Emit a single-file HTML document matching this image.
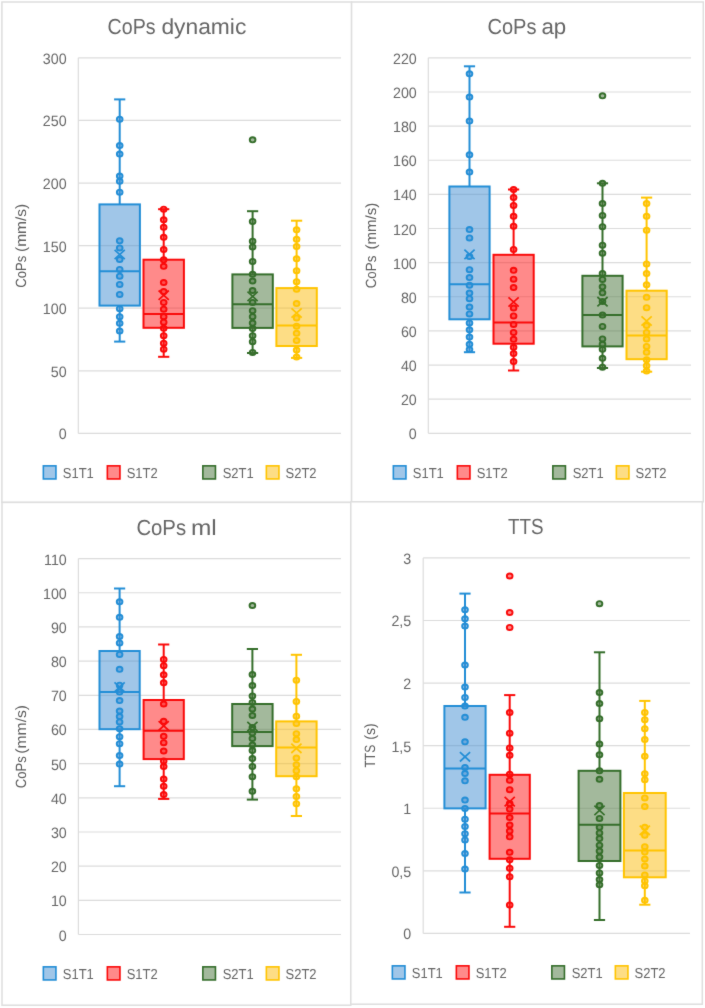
<!DOCTYPE html>
<html><head><meta charset="utf-8"><title>Box plots</title>
<style>
html,body{margin:0;padding:0;background:#fff;}
body{width:705px;height:1008px;overflow:hidden;}
svg{display:block;}
#w{width:705px;height:1008px;}
text{font-family:"Liberation Sans", sans-serif;text-rendering:geometricPrecision;}
</style></head><body>
<div id="w"><svg width="705" height="1008" viewBox="0 0 705 1008">
<defs><filter id="bl" x="0" y="0" width="1" height="1" color-interpolation-filters="sRGB"><feConvolveMatrix order="3" kernelMatrix="0.015 0.06 0.015 0.06 0.70 0.06 0.015 0.06 0.015" edgeMode="duplicate"/></filter></defs>
<g filter="url(#bl)">
<rect x="0" y="0" width="705" height="1008" fill="#fff"/>
<rect x="1.9" y="2" width="349.7" height="500.4" fill="#fff" stroke="#dedede" stroke-width="1.5"/>
<text x="107.6" y="34.3" font-size="21.9" textLength="47.9" lengthAdjust="spacingAndGlyphs" fill="#666666">CoPs</text>
<text x="161.4" y="34.3" font-size="21.9" textLength="84.9" lengthAdjust="spacingAndGlyphs" fill="#666666">dynamic</text>
<line x1="78.3" y1="433.4" x2="341" y2="433.4" stroke="#dcdcdc" stroke-width="1.2"/>
<text transform="translate(66.6,439.4) scale(0.95,1)" font-size="15" text-anchor="end" fill="#666666">0</text>
<line x1="78.3" y1="370.81" x2="341" y2="370.81" stroke="#dcdcdc" stroke-width="1.2"/>
<text transform="translate(66.6,376.81) scale(0.95,1)" font-size="15" text-anchor="end" fill="#666666">50</text>
<line x1="78.3" y1="308.22" x2="341" y2="308.22" stroke="#dcdcdc" stroke-width="1.2"/>
<text transform="translate(66.6,314.22) scale(0.95,1)" font-size="15" text-anchor="end" fill="#666666">100</text>
<line x1="78.3" y1="245.62" x2="341" y2="245.62" stroke="#dcdcdc" stroke-width="1.2"/>
<text transform="translate(66.6,251.62) scale(0.95,1)" font-size="15" text-anchor="end" fill="#666666">150</text>
<line x1="78.3" y1="183.03" x2="341" y2="183.03" stroke="#dcdcdc" stroke-width="1.2"/>
<text transform="translate(66.6,189.03) scale(0.95,1)" font-size="15" text-anchor="end" fill="#666666">200</text>
<line x1="78.3" y1="120.44" x2="341" y2="120.44" stroke="#dcdcdc" stroke-width="1.2"/>
<text transform="translate(66.6,126.44) scale(0.95,1)" font-size="15" text-anchor="end" fill="#666666">250</text>
<line x1="78.3" y1="57.85" x2="341" y2="57.85" stroke="#dcdcdc" stroke-width="1.2"/>
<text transform="translate(66.6,63.85) scale(0.95,1)" font-size="15" text-anchor="end" fill="#666666">300</text>
<line x1="78.3" y1="57.85" x2="78.3" y2="433.4" stroke="#dcdcdc" stroke-width="1.2"/>
<text transform="translate(25.8,287.7) rotate(-90)" x="0" y="0" font-size="14.8" textLength="32.1" lengthAdjust="spacingAndGlyphs" fill="#5e5e5e">CoPs</text>
<text transform="translate(25.8,252) rotate(-90)" x="0" y="0" font-size="14.8" textLength="48.2" lengthAdjust="spacingAndGlyphs" fill="#5e5e5e">(mm/s)</text>
<line x1="119.7" y1="99.4" x2="119.7" y2="204.4" stroke="#238ed6" stroke-width="2"/>
<line x1="119.7" y1="305.6" x2="119.7" y2="341.6" stroke="#238ed6" stroke-width="2"/>
<line x1="114.1" y1="99.4" x2="125.3" y2="99.4" stroke="#238ed6" stroke-width="2"/>
<line x1="114.1" y1="341.6" x2="125.3" y2="341.6" stroke="#238ed6" stroke-width="2"/>
<rect x="99.5" y="204.4" width="40.4" height="101.2" fill="rgba(65,141,209,0.5)" stroke="#238ed6" stroke-width="2"/>
<line x1="99.5" y1="271.2" x2="139.9" y2="271.2" stroke="#238ed6" stroke-width="2"/>
<ellipse cx="119.7" cy="119.2" rx="2.85" ry="2.55" fill="rgba(65,141,209,0.5)" stroke="#238ed6" stroke-width="1.9"/>
<ellipse cx="119.7" cy="145.6" rx="2.85" ry="2.55" fill="rgba(65,141,209,0.5)" stroke="#238ed6" stroke-width="1.9"/>
<ellipse cx="119.7" cy="154.1" rx="2.85" ry="2.55" fill="rgba(65,141,209,0.5)" stroke="#238ed6" stroke-width="1.9"/>
<ellipse cx="119.7" cy="176.1" rx="2.85" ry="2.55" fill="rgba(65,141,209,0.5)" stroke="#238ed6" stroke-width="1.9"/>
<ellipse cx="119.7" cy="181.3" rx="2.85" ry="2.55" fill="rgba(65,141,209,0.5)" stroke="#238ed6" stroke-width="1.9"/>
<ellipse cx="119.7" cy="192.2" rx="2.85" ry="2.55" fill="rgba(65,141,209,0.5)" stroke="#238ed6" stroke-width="1.9"/>
<ellipse cx="119.7" cy="240.8" rx="2.85" ry="2.55" fill="rgba(65,141,209,0.5)" stroke="#238ed6" stroke-width="1.9"/>
<ellipse cx="119.7" cy="247.9" rx="2.85" ry="2.55" fill="rgba(65,141,209,0.5)" stroke="#238ed6" stroke-width="1.9"/>
<ellipse cx="119.7" cy="259.5" rx="2.85" ry="2.55" fill="rgba(65,141,209,0.5)" stroke="#238ed6" stroke-width="1.9"/>
<ellipse cx="119.7" cy="269.4" rx="2.85" ry="2.55" fill="rgba(65,141,209,0.5)" stroke="#238ed6" stroke-width="1.9"/>
<ellipse cx="119.7" cy="276.2" rx="2.85" ry="2.55" fill="rgba(65,141,209,0.5)" stroke="#238ed6" stroke-width="1.9"/>
<ellipse cx="119.7" cy="284.4" rx="2.85" ry="2.55" fill="rgba(65,141,209,0.5)" stroke="#238ed6" stroke-width="1.9"/>
<ellipse cx="119.7" cy="294.4" rx="2.85" ry="2.55" fill="rgba(65,141,209,0.5)" stroke="#238ed6" stroke-width="1.9"/>
<ellipse cx="119.7" cy="308.7" rx="2.85" ry="2.55" fill="rgba(65,141,209,0.5)" stroke="#238ed6" stroke-width="1.9"/>
<ellipse cx="119.7" cy="316.7" rx="2.85" ry="2.55" fill="rgba(65,141,209,0.5)" stroke="#238ed6" stroke-width="1.9"/>
<ellipse cx="119.7" cy="323.3" rx="2.85" ry="2.55" fill="rgba(65,141,209,0.5)" stroke="#238ed6" stroke-width="1.9"/>
<ellipse cx="119.7" cy="331" rx="2.85" ry="2.55" fill="rgba(65,141,209,0.5)" stroke="#238ed6" stroke-width="1.9"/>
<path d="M114.6 249.8L124.8 259.2M124.8 249.8L114.6 259.2" stroke="#238ed6" stroke-width="1.7" fill="none"/>
<line x1="163.7" y1="209.2" x2="163.7" y2="259.7" stroke="#fa0a0a" stroke-width="2"/>
<line x1="163.7" y1="327.8" x2="163.7" y2="356.8" stroke="#fa0a0a" stroke-width="2"/>
<line x1="158.1" y1="209.2" x2="169.3" y2="209.2" stroke="#fa0a0a" stroke-width="2"/>
<line x1="158.1" y1="356.8" x2="169.3" y2="356.8" stroke="#fa0a0a" stroke-width="2"/>
<rect x="143.5" y="259.7" width="40.4" height="68.1" fill="rgba(255,21,21,0.5)" stroke="#fa0a0a" stroke-width="2"/>
<line x1="143.5" y1="314" x2="183.9" y2="314" stroke="#fa0a0a" stroke-width="2"/>
<ellipse cx="163.7" cy="209.2" rx="2.85" ry="2.55" fill="rgba(255,21,21,0.5)" stroke="#fa0a0a" stroke-width="1.9"/>
<ellipse cx="163.7" cy="219.8" rx="2.85" ry="2.55" fill="rgba(255,21,21,0.5)" stroke="#fa0a0a" stroke-width="1.9"/>
<ellipse cx="163.7" cy="227.3" rx="2.85" ry="2.55" fill="rgba(255,21,21,0.5)" stroke="#fa0a0a" stroke-width="1.9"/>
<ellipse cx="163.7" cy="237.3" rx="2.85" ry="2.55" fill="rgba(255,21,21,0.5)" stroke="#fa0a0a" stroke-width="1.9"/>
<ellipse cx="163.7" cy="249.5" rx="2.85" ry="2.55" fill="rgba(255,21,21,0.5)" stroke="#fa0a0a" stroke-width="1.9"/>
<ellipse cx="163.7" cy="259.8" rx="2.85" ry="2.55" fill="rgba(255,21,21,0.5)" stroke="#fa0a0a" stroke-width="1.9"/>
<ellipse cx="163.7" cy="266.3" rx="2.85" ry="2.55" fill="rgba(255,21,21,0.5)" stroke="#fa0a0a" stroke-width="1.9"/>
<ellipse cx="163.7" cy="282.5" rx="2.85" ry="2.55" fill="rgba(255,21,21,0.5)" stroke="#fa0a0a" stroke-width="1.9"/>
<ellipse cx="163.7" cy="291.6" rx="2.85" ry="2.55" fill="rgba(255,21,21,0.5)" stroke="#fa0a0a" stroke-width="1.9"/>
<ellipse cx="163.7" cy="302.4" rx="2.85" ry="2.55" fill="rgba(255,21,21,0.5)" stroke="#fa0a0a" stroke-width="1.9"/>
<ellipse cx="163.7" cy="309.2" rx="2.85" ry="2.55" fill="rgba(255,21,21,0.5)" stroke="#fa0a0a" stroke-width="1.9"/>
<ellipse cx="163.7" cy="316.7" rx="2.85" ry="2.55" fill="rgba(255,21,21,0.5)" stroke="#fa0a0a" stroke-width="1.9"/>
<ellipse cx="163.7" cy="322.2" rx="2.85" ry="2.55" fill="rgba(255,21,21,0.5)" stroke="#fa0a0a" stroke-width="1.9"/>
<ellipse cx="163.7" cy="328.3" rx="2.85" ry="2.55" fill="rgba(255,21,21,0.5)" stroke="#fa0a0a" stroke-width="1.9"/>
<ellipse cx="163.7" cy="335.7" rx="2.85" ry="2.55" fill="rgba(255,21,21,0.5)" stroke="#fa0a0a" stroke-width="1.9"/>
<ellipse cx="163.7" cy="343.2" rx="2.85" ry="2.55" fill="rgba(255,21,21,0.5)" stroke="#fa0a0a" stroke-width="1.9"/>
<ellipse cx="163.7" cy="349.2" rx="2.85" ry="2.55" fill="rgba(255,21,21,0.5)" stroke="#fa0a0a" stroke-width="1.9"/>
<path d="M158.6 290.5L168.8 299.9M168.8 290.5L158.6 299.9" stroke="#fa0a0a" stroke-width="1.7" fill="none"/>
<line x1="252.6" y1="211.2" x2="252.6" y2="274.4" stroke="#356e2b" stroke-width="2"/>
<line x1="252.6" y1="327.9" x2="252.6" y2="353" stroke="#356e2b" stroke-width="2"/>
<line x1="247" y1="211.2" x2="258.2" y2="211.2" stroke="#356e2b" stroke-width="2"/>
<line x1="247" y1="353" x2="258.2" y2="353" stroke="#356e2b" stroke-width="2"/>
<rect x="232.4" y="274.4" width="40.4" height="53.5" fill="rgba(71,115,57,0.5)" stroke="#356e2b" stroke-width="2"/>
<line x1="232.4" y1="304.3" x2="272.8" y2="304.3" stroke="#356e2b" stroke-width="2"/>
<ellipse cx="252.6" cy="221.4" rx="2.85" ry="2.55" fill="rgba(71,115,57,0.5)" stroke="#356e2b" stroke-width="1.9"/>
<ellipse cx="252.6" cy="241.2" rx="2.85" ry="2.55" fill="rgba(71,115,57,0.5)" stroke="#356e2b" stroke-width="1.9"/>
<ellipse cx="252.6" cy="246.9" rx="2.85" ry="2.55" fill="rgba(71,115,57,0.5)" stroke="#356e2b" stroke-width="1.9"/>
<ellipse cx="252.6" cy="261.4" rx="2.85" ry="2.55" fill="rgba(71,115,57,0.5)" stroke="#356e2b" stroke-width="1.9"/>
<ellipse cx="252.6" cy="274.3" rx="2.85" ry="2.55" fill="rgba(71,115,57,0.5)" stroke="#356e2b" stroke-width="1.9"/>
<ellipse cx="252.6" cy="281" rx="2.85" ry="2.55" fill="rgba(71,115,57,0.5)" stroke="#356e2b" stroke-width="1.9"/>
<ellipse cx="252.6" cy="290.5" rx="2.85" ry="2.55" fill="rgba(71,115,57,0.5)" stroke="#356e2b" stroke-width="1.9"/>
<ellipse cx="252.6" cy="302.4" rx="2.85" ry="2.55" fill="rgba(71,115,57,0.5)" stroke="#356e2b" stroke-width="1.9"/>
<ellipse cx="252.6" cy="310.7" rx="2.85" ry="2.55" fill="rgba(71,115,57,0.5)" stroke="#356e2b" stroke-width="1.9"/>
<ellipse cx="252.6" cy="316.7" rx="2.85" ry="2.55" fill="rgba(71,115,57,0.5)" stroke="#356e2b" stroke-width="1.9"/>
<ellipse cx="252.6" cy="323.1" rx="2.85" ry="2.55" fill="rgba(71,115,57,0.5)" stroke="#356e2b" stroke-width="1.9"/>
<ellipse cx="252.6" cy="328.6" rx="2.85" ry="2.55" fill="rgba(71,115,57,0.5)" stroke="#356e2b" stroke-width="1.9"/>
<ellipse cx="252.6" cy="335.7" rx="2.85" ry="2.55" fill="rgba(71,115,57,0.5)" stroke="#356e2b" stroke-width="1.9"/>
<ellipse cx="252.6" cy="341.7" rx="2.85" ry="2.55" fill="rgba(71,115,57,0.5)" stroke="#356e2b" stroke-width="1.9"/>
<ellipse cx="252.6" cy="352.4" rx="2.85" ry="2.55" fill="rgba(71,115,57,0.5)" stroke="#356e2b" stroke-width="1.9"/>
<ellipse cx="252.6" cy="139.8" rx="2.85" ry="2.55" fill="rgba(71,115,57,0.5)" stroke="#356e2b" stroke-width="1.9"/>
<path d="M247.5 291.7L257.7 301.1M257.7 291.7L247.5 301.1" stroke="#356e2b" stroke-width="1.7" fill="none"/>
<line x1="296.6" y1="220.7" x2="296.6" y2="288.1" stroke="#ffc400" stroke-width="2"/>
<line x1="296.6" y1="346" x2="296.6" y2="357.9" stroke="#ffc400" stroke-width="2"/>
<line x1="291" y1="220.7" x2="302.2" y2="220.7" stroke="#ffc400" stroke-width="2"/>
<line x1="291" y1="357.9" x2="302.2" y2="357.9" stroke="#ffc400" stroke-width="2"/>
<rect x="276.4" y="288.1" width="40.4" height="57.9" fill="rgba(251,187,11,0.5)" stroke="#ffc400" stroke-width="2"/>
<line x1="276.4" y1="325.5" x2="316.8" y2="325.5" stroke="#ffc400" stroke-width="2"/>
<ellipse cx="296.6" cy="229.8" rx="2.85" ry="2.55" fill="rgba(251,187,11,0.5)" stroke="#ffc400" stroke-width="1.9"/>
<ellipse cx="296.6" cy="239.3" rx="2.85" ry="2.55" fill="rgba(251,187,11,0.5)" stroke="#ffc400" stroke-width="1.9"/>
<ellipse cx="296.6" cy="246.4" rx="2.85" ry="2.55" fill="rgba(251,187,11,0.5)" stroke="#ffc400" stroke-width="1.9"/>
<ellipse cx="296.6" cy="258.8" rx="2.85" ry="2.55" fill="rgba(251,187,11,0.5)" stroke="#ffc400" stroke-width="1.9"/>
<ellipse cx="296.6" cy="270.7" rx="2.85" ry="2.55" fill="rgba(251,187,11,0.5)" stroke="#ffc400" stroke-width="1.9"/>
<ellipse cx="296.6" cy="281.7" rx="2.85" ry="2.55" fill="rgba(251,187,11,0.5)" stroke="#ffc400" stroke-width="1.9"/>
<ellipse cx="296.6" cy="289.3" rx="2.85" ry="2.55" fill="rgba(251,187,11,0.5)" stroke="#ffc400" stroke-width="1.9"/>
<ellipse cx="296.6" cy="303.6" rx="2.85" ry="2.55" fill="rgba(251,187,11,0.5)" stroke="#ffc400" stroke-width="1.9"/>
<ellipse cx="296.6" cy="317.9" rx="2.85" ry="2.55" fill="rgba(251,187,11,0.5)" stroke="#ffc400" stroke-width="1.9"/>
<ellipse cx="296.6" cy="326.2" rx="2.85" ry="2.55" fill="rgba(251,187,11,0.5)" stroke="#ffc400" stroke-width="1.9"/>
<ellipse cx="296.6" cy="333.3" rx="2.85" ry="2.55" fill="rgba(251,187,11,0.5)" stroke="#ffc400" stroke-width="1.9"/>
<ellipse cx="296.6" cy="340.5" rx="2.85" ry="2.55" fill="rgba(251,187,11,0.5)" stroke="#ffc400" stroke-width="1.9"/>
<ellipse cx="296.6" cy="350" rx="2.85" ry="2.55" fill="rgba(251,187,11,0.5)" stroke="#ffc400" stroke-width="1.9"/>
<ellipse cx="296.6" cy="357" rx="2.85" ry="2.55" fill="rgba(251,187,11,0.5)" stroke="#ffc400" stroke-width="1.9"/>
<path d="M291.5 308.3L301.7 317.7M301.7 308.3L291.5 317.7" stroke="#ffc400" stroke-width="1.7" fill="none"/>
<rect x="43.35" y="465.85" width="12.6" height="13.1" fill="rgba(65,141,209,0.5)" stroke="#238ed6" stroke-width="1.6"/>
<text x="62.8" y="478.3" font-size="14.5" textLength="31" lengthAdjust="spacingAndGlyphs" fill="#666666">S1T1</text>
<rect x="107.35" y="465.85" width="12.6" height="13.1" fill="rgba(255,21,21,0.5)" stroke="#fa0a0a" stroke-width="1.6"/>
<text x="126.7" y="478.3" font-size="14.5" textLength="31" lengthAdjust="spacingAndGlyphs" fill="#666666">S1T2</text>
<rect x="202.85" y="465.85" width="12.6" height="13.1" fill="rgba(71,115,57,0.5)" stroke="#356e2b" stroke-width="1.6"/>
<text x="222.7" y="478.3" font-size="14.5" textLength="31" lengthAdjust="spacingAndGlyphs" fill="#666666">S2T1</text>
<rect x="266.35" y="465.85" width="12.6" height="13.1" fill="rgba(251,187,11,0.5)" stroke="#ffc400" stroke-width="1.6"/>
<text x="285.6" y="478.3" font-size="14.5" textLength="31" lengthAdjust="spacingAndGlyphs" fill="#666666">S2T2</text>
<rect x="351.6" y="2" width="351.7" height="499.8" fill="#fff" stroke="#dedede" stroke-width="1.5"/>
<text x="487.4" y="34.4" font-size="21.9" textLength="49.1" lengthAdjust="spacingAndGlyphs" fill="#666666">CoPs</text>
<text x="541.4" y="34.4" font-size="21.9" textLength="24.8" lengthAdjust="spacingAndGlyphs" fill="#666666">ap</text>
<line x1="428.3" y1="433.3" x2="691" y2="433.3" stroke="#dcdcdc" stroke-width="1.2"/>
<text transform="translate(416.8,439.3) scale(0.95,1)" font-size="15" text-anchor="end" fill="#666666">0</text>
<line x1="428.3" y1="399.17" x2="691" y2="399.17" stroke="#dcdcdc" stroke-width="1.2"/>
<text transform="translate(416.8,405.17) scale(0.95,1)" font-size="15" text-anchor="end" fill="#666666">20</text>
<line x1="428.3" y1="365.04" x2="691" y2="365.04" stroke="#dcdcdc" stroke-width="1.2"/>
<text transform="translate(416.8,371.04) scale(0.95,1)" font-size="15" text-anchor="end" fill="#666666">40</text>
<line x1="428.3" y1="330.9" x2="691" y2="330.9" stroke="#dcdcdc" stroke-width="1.2"/>
<text transform="translate(416.8,336.9) scale(0.95,1)" font-size="15" text-anchor="end" fill="#666666">60</text>
<line x1="428.3" y1="296.77" x2="691" y2="296.77" stroke="#dcdcdc" stroke-width="1.2"/>
<text transform="translate(416.8,302.77) scale(0.95,1)" font-size="15" text-anchor="end" fill="#666666">80</text>
<line x1="428.3" y1="262.64" x2="691" y2="262.64" stroke="#dcdcdc" stroke-width="1.2"/>
<text transform="translate(416.8,268.64) scale(0.95,1)" font-size="15" text-anchor="end" fill="#666666">100</text>
<line x1="428.3" y1="228.51" x2="691" y2="228.51" stroke="#dcdcdc" stroke-width="1.2"/>
<text transform="translate(416.8,234.51) scale(0.95,1)" font-size="15" text-anchor="end" fill="#666666">120</text>
<line x1="428.3" y1="194.38" x2="691" y2="194.38" stroke="#dcdcdc" stroke-width="1.2"/>
<text transform="translate(416.8,200.38) scale(0.95,1)" font-size="15" text-anchor="end" fill="#666666">140</text>
<line x1="428.3" y1="160.25" x2="691" y2="160.25" stroke="#dcdcdc" stroke-width="1.2"/>
<text transform="translate(416.8,166.25) scale(0.95,1)" font-size="15" text-anchor="end" fill="#666666">160</text>
<line x1="428.3" y1="126.11" x2="691" y2="126.11" stroke="#dcdcdc" stroke-width="1.2"/>
<text transform="translate(416.8,132.11) scale(0.95,1)" font-size="15" text-anchor="end" fill="#666666">180</text>
<line x1="428.3" y1="91.98" x2="691" y2="91.98" stroke="#dcdcdc" stroke-width="1.2"/>
<text transform="translate(416.8,97.98) scale(0.95,1)" font-size="15" text-anchor="end" fill="#666666">200</text>
<line x1="428.3" y1="57.85" x2="691" y2="57.85" stroke="#dcdcdc" stroke-width="1.2"/>
<text transform="translate(416.8,63.85) scale(0.95,1)" font-size="15" text-anchor="end" fill="#666666">220</text>
<line x1="428.3" y1="57.85" x2="428.3" y2="433.3" stroke="#dcdcdc" stroke-width="1.2"/>
<text transform="translate(375.8,288.3) rotate(-90)" x="0" y="0" font-size="14.8" textLength="32.7" lengthAdjust="spacingAndGlyphs" fill="#5e5e5e">CoPs</text>
<text transform="translate(375.8,249.6) rotate(-90)" x="0" y="0" font-size="14.8" textLength="47" lengthAdjust="spacingAndGlyphs" fill="#5e5e5e">(mm/s)</text>
<line x1="469.5" y1="66.3" x2="469.5" y2="186.5" stroke="#238ed6" stroke-width="2"/>
<line x1="469.5" y1="319.3" x2="469.5" y2="352.2" stroke="#238ed6" stroke-width="2"/>
<line x1="463.9" y1="66.3" x2="475.1" y2="66.3" stroke="#238ed6" stroke-width="2"/>
<line x1="463.9" y1="352.2" x2="475.1" y2="352.2" stroke="#238ed6" stroke-width="2"/>
<rect x="449.4" y="186.5" width="40.2" height="132.8" fill="rgba(65,141,209,0.5)" stroke="#238ed6" stroke-width="2"/>
<line x1="449.4" y1="284.2" x2="489.6" y2="284.2" stroke="#238ed6" stroke-width="2"/>
<ellipse cx="469.5" cy="73.8" rx="2.85" ry="2.55" fill="rgba(65,141,209,0.5)" stroke="#238ed6" stroke-width="1.9"/>
<ellipse cx="469.5" cy="97.1" rx="2.85" ry="2.55" fill="rgba(65,141,209,0.5)" stroke="#238ed6" stroke-width="1.9"/>
<ellipse cx="469.5" cy="121.1" rx="2.85" ry="2.55" fill="rgba(65,141,209,0.5)" stroke="#238ed6" stroke-width="1.9"/>
<ellipse cx="469.5" cy="154.8" rx="2.85" ry="2.55" fill="rgba(65,141,209,0.5)" stroke="#238ed6" stroke-width="1.9"/>
<ellipse cx="469.5" cy="172.1" rx="2.85" ry="2.55" fill="rgba(65,141,209,0.5)" stroke="#238ed6" stroke-width="1.9"/>
<ellipse cx="469.5" cy="229.6" rx="2.85" ry="2.55" fill="rgba(65,141,209,0.5)" stroke="#238ed6" stroke-width="1.9"/>
<ellipse cx="469.5" cy="237.9" rx="2.85" ry="2.55" fill="rgba(65,141,209,0.5)" stroke="#238ed6" stroke-width="1.9"/>
<ellipse cx="469.5" cy="256.4" rx="2.85" ry="2.55" fill="rgba(65,141,209,0.5)" stroke="#238ed6" stroke-width="1.9"/>
<ellipse cx="469.5" cy="269.7" rx="2.85" ry="2.55" fill="rgba(65,141,209,0.5)" stroke="#238ed6" stroke-width="1.9"/>
<ellipse cx="469.5" cy="277.6" rx="2.85" ry="2.55" fill="rgba(65,141,209,0.5)" stroke="#238ed6" stroke-width="1.9"/>
<ellipse cx="469.5" cy="285.2" rx="2.85" ry="2.55" fill="rgba(65,141,209,0.5)" stroke="#238ed6" stroke-width="1.9"/>
<ellipse cx="469.5" cy="293.1" rx="2.85" ry="2.55" fill="rgba(65,141,209,0.5)" stroke="#238ed6" stroke-width="1.9"/>
<ellipse cx="469.5" cy="298.7" rx="2.85" ry="2.55" fill="rgba(65,141,209,0.5)" stroke="#238ed6" stroke-width="1.9"/>
<ellipse cx="469.5" cy="307" rx="2.85" ry="2.55" fill="rgba(65,141,209,0.5)" stroke="#238ed6" stroke-width="1.9"/>
<ellipse cx="469.5" cy="313.9" rx="2.85" ry="2.55" fill="rgba(65,141,209,0.5)" stroke="#238ed6" stroke-width="1.9"/>
<ellipse cx="469.5" cy="322.9" rx="2.85" ry="2.55" fill="rgba(65,141,209,0.5)" stroke="#238ed6" stroke-width="1.9"/>
<ellipse cx="469.5" cy="329.8" rx="2.85" ry="2.55" fill="rgba(65,141,209,0.5)" stroke="#238ed6" stroke-width="1.9"/>
<ellipse cx="469.5" cy="337.1" rx="2.85" ry="2.55" fill="rgba(65,141,209,0.5)" stroke="#238ed6" stroke-width="1.9"/>
<ellipse cx="469.5" cy="344.3" rx="2.85" ry="2.55" fill="rgba(65,141,209,0.5)" stroke="#238ed6" stroke-width="1.9"/>
<ellipse cx="469.5" cy="349.6" rx="2.85" ry="2.55" fill="rgba(65,141,209,0.5)" stroke="#238ed6" stroke-width="1.9"/>
<path d="M464.4 249.7L474.6 259.1M474.6 249.7L464.4 259.1" stroke="#238ed6" stroke-width="1.7" fill="none"/>
<line x1="513.6" y1="189.5" x2="513.6" y2="254.8" stroke="#fa0a0a" stroke-width="2"/>
<line x1="513.6" y1="343.7" x2="513.6" y2="370.5" stroke="#fa0a0a" stroke-width="2"/>
<line x1="508" y1="189.5" x2="519.2" y2="189.5" stroke="#fa0a0a" stroke-width="2"/>
<line x1="508" y1="370.5" x2="519.2" y2="370.5" stroke="#fa0a0a" stroke-width="2"/>
<rect x="493.5" y="254.8" width="40.2" height="88.9" fill="rgba(255,21,21,0.5)" stroke="#fa0a0a" stroke-width="2"/>
<line x1="493.5" y1="322.5" x2="533.7" y2="322.5" stroke="#fa0a0a" stroke-width="2"/>
<ellipse cx="513.6" cy="189.5" rx="2.85" ry="2.55" fill="rgba(255,21,21,0.5)" stroke="#fa0a0a" stroke-width="1.9"/>
<ellipse cx="513.6" cy="197.5" rx="2.85" ry="2.55" fill="rgba(255,21,21,0.5)" stroke="#fa0a0a" stroke-width="1.9"/>
<ellipse cx="513.6" cy="205.4" rx="2.85" ry="2.55" fill="rgba(255,21,21,0.5)" stroke="#fa0a0a" stroke-width="1.9"/>
<ellipse cx="513.6" cy="216.3" rx="2.85" ry="2.55" fill="rgba(255,21,21,0.5)" stroke="#fa0a0a" stroke-width="1.9"/>
<ellipse cx="513.6" cy="226.2" rx="2.85" ry="2.55" fill="rgba(255,21,21,0.5)" stroke="#fa0a0a" stroke-width="1.9"/>
<ellipse cx="513.6" cy="249.4" rx="2.85" ry="2.55" fill="rgba(255,21,21,0.5)" stroke="#fa0a0a" stroke-width="1.9"/>
<ellipse cx="513.6" cy="270.3" rx="2.85" ry="2.55" fill="rgba(255,21,21,0.5)" stroke="#fa0a0a" stroke-width="1.9"/>
<ellipse cx="513.6" cy="279.2" rx="2.85" ry="2.55" fill="rgba(255,21,21,0.5)" stroke="#fa0a0a" stroke-width="1.9"/>
<ellipse cx="513.6" cy="287.5" rx="2.85" ry="2.55" fill="rgba(255,21,21,0.5)" stroke="#fa0a0a" stroke-width="1.9"/>
<ellipse cx="513.6" cy="308" rx="2.85" ry="2.55" fill="rgba(255,21,21,0.5)" stroke="#fa0a0a" stroke-width="1.9"/>
<ellipse cx="513.6" cy="315.9" rx="2.85" ry="2.55" fill="rgba(255,21,21,0.5)" stroke="#fa0a0a" stroke-width="1.9"/>
<ellipse cx="513.6" cy="324.4" rx="2.85" ry="2.55" fill="rgba(255,21,21,0.5)" stroke="#fa0a0a" stroke-width="1.9"/>
<ellipse cx="513.6" cy="332.4" rx="2.85" ry="2.55" fill="rgba(255,21,21,0.5)" stroke="#fa0a0a" stroke-width="1.9"/>
<ellipse cx="513.6" cy="339.3" rx="2.85" ry="2.55" fill="rgba(255,21,21,0.5)" stroke="#fa0a0a" stroke-width="1.9"/>
<ellipse cx="513.6" cy="347.3" rx="2.85" ry="2.55" fill="rgba(255,21,21,0.5)" stroke="#fa0a0a" stroke-width="1.9"/>
<ellipse cx="513.6" cy="353.6" rx="2.85" ry="2.55" fill="rgba(255,21,21,0.5)" stroke="#fa0a0a" stroke-width="1.9"/>
<ellipse cx="513.6" cy="361.5" rx="2.85" ry="2.55" fill="rgba(255,21,21,0.5)" stroke="#fa0a0a" stroke-width="1.9"/>
<path d="M508.5 297.3L518.7 306.7M518.7 297.3L508.5 306.7" stroke="#fa0a0a" stroke-width="1.7" fill="none"/>
<line x1="602.5" y1="183.3" x2="602.5" y2="275.8" stroke="#356e2b" stroke-width="2"/>
<line x1="602.5" y1="346.4" x2="602.5" y2="368" stroke="#356e2b" stroke-width="2"/>
<line x1="596.9" y1="183.3" x2="608.1" y2="183.3" stroke="#356e2b" stroke-width="2"/>
<line x1="596.9" y1="368" x2="608.1" y2="368" stroke="#356e2b" stroke-width="2"/>
<rect x="582.4" y="275.8" width="40.2" height="70.6" fill="rgba(71,115,57,0.5)" stroke="#356e2b" stroke-width="2"/>
<line x1="582.4" y1="315.1" x2="622.6" y2="315.1" stroke="#356e2b" stroke-width="2"/>
<ellipse cx="602.5" cy="183.3" rx="2.85" ry="2.55" fill="rgba(71,115,57,0.5)" stroke="#356e2b" stroke-width="1.9"/>
<ellipse cx="602.5" cy="203.5" rx="2.85" ry="2.55" fill="rgba(71,115,57,0.5)" stroke="#356e2b" stroke-width="1.9"/>
<ellipse cx="602.5" cy="215.4" rx="2.85" ry="2.55" fill="rgba(71,115,57,0.5)" stroke="#356e2b" stroke-width="1.9"/>
<ellipse cx="602.5" cy="226.7" rx="2.85" ry="2.55" fill="rgba(71,115,57,0.5)" stroke="#356e2b" stroke-width="1.9"/>
<ellipse cx="602.5" cy="245.2" rx="2.85" ry="2.55" fill="rgba(71,115,57,0.5)" stroke="#356e2b" stroke-width="1.9"/>
<ellipse cx="602.5" cy="253.2" rx="2.85" ry="2.55" fill="rgba(71,115,57,0.5)" stroke="#356e2b" stroke-width="1.9"/>
<ellipse cx="602.5" cy="273.5" rx="2.85" ry="2.55" fill="rgba(71,115,57,0.5)" stroke="#356e2b" stroke-width="1.9"/>
<ellipse cx="602.5" cy="279.4" rx="2.85" ry="2.55" fill="rgba(71,115,57,0.5)" stroke="#356e2b" stroke-width="1.9"/>
<ellipse cx="602.5" cy="286.8" rx="2.85" ry="2.55" fill="rgba(71,115,57,0.5)" stroke="#356e2b" stroke-width="1.9"/>
<ellipse cx="602.5" cy="292.8" rx="2.85" ry="2.55" fill="rgba(71,115,57,0.5)" stroke="#356e2b" stroke-width="1.9"/>
<ellipse cx="602.5" cy="301.5" rx="2.85" ry="2.55" fill="rgba(71,115,57,0.5)" stroke="#356e2b" stroke-width="1.9"/>
<ellipse cx="602.5" cy="315" rx="2.85" ry="2.55" fill="rgba(71,115,57,0.5)" stroke="#356e2b" stroke-width="1.9"/>
<ellipse cx="602.5" cy="326.4" rx="2.85" ry="2.55" fill="rgba(71,115,57,0.5)" stroke="#356e2b" stroke-width="1.9"/>
<ellipse cx="602.5" cy="338.9" rx="2.85" ry="2.55" fill="rgba(71,115,57,0.5)" stroke="#356e2b" stroke-width="1.9"/>
<ellipse cx="602.5" cy="344.3" rx="2.85" ry="2.55" fill="rgba(71,115,57,0.5)" stroke="#356e2b" stroke-width="1.9"/>
<ellipse cx="602.5" cy="349.3" rx="2.85" ry="2.55" fill="rgba(71,115,57,0.5)" stroke="#356e2b" stroke-width="1.9"/>
<ellipse cx="602.5" cy="358.3" rx="2.85" ry="2.55" fill="rgba(71,115,57,0.5)" stroke="#356e2b" stroke-width="1.9"/>
<ellipse cx="602.5" cy="367.2" rx="2.85" ry="2.55" fill="rgba(71,115,57,0.5)" stroke="#356e2b" stroke-width="1.9"/>
<ellipse cx="602.5" cy="95.8" rx="2.85" ry="2.55" fill="rgba(71,115,57,0.5)" stroke="#356e2b" stroke-width="1.9"/>
<path d="M597.4 297L607.6 306.4M607.6 297L597.4 306.4" stroke="#356e2b" stroke-width="1.7" fill="none"/>
<line x1="646.6" y1="197.6" x2="646.6" y2="290.7" stroke="#ffc400" stroke-width="2"/>
<line x1="646.6" y1="359.2" x2="646.6" y2="371.7" stroke="#ffc400" stroke-width="2"/>
<line x1="641" y1="197.6" x2="652.2" y2="197.6" stroke="#ffc400" stroke-width="2"/>
<line x1="641" y1="371.7" x2="652.2" y2="371.7" stroke="#ffc400" stroke-width="2"/>
<rect x="626.5" y="290.7" width="40.2" height="68.5" fill="rgba(251,187,11,0.5)" stroke="#ffc400" stroke-width="2"/>
<line x1="626.5" y1="335.4" x2="666.7" y2="335.4" stroke="#ffc400" stroke-width="2"/>
<ellipse cx="646.6" cy="203.5" rx="2.85" ry="2.55" fill="rgba(251,187,11,0.5)" stroke="#ffc400" stroke-width="1.9"/>
<ellipse cx="646.6" cy="216.3" rx="2.85" ry="2.55" fill="rgba(251,187,11,0.5)" stroke="#ffc400" stroke-width="1.9"/>
<ellipse cx="646.6" cy="230.3" rx="2.85" ry="2.55" fill="rgba(251,187,11,0.5)" stroke="#ffc400" stroke-width="1.9"/>
<ellipse cx="646.6" cy="263.9" rx="2.85" ry="2.55" fill="rgba(251,187,11,0.5)" stroke="#ffc400" stroke-width="1.9"/>
<ellipse cx="646.6" cy="273.5" rx="2.85" ry="2.55" fill="rgba(251,187,11,0.5)" stroke="#ffc400" stroke-width="1.9"/>
<ellipse cx="646.6" cy="284.8" rx="2.85" ry="2.55" fill="rgba(251,187,11,0.5)" stroke="#ffc400" stroke-width="1.9"/>
<ellipse cx="646.6" cy="297.3" rx="2.85" ry="2.55" fill="rgba(251,187,11,0.5)" stroke="#ffc400" stroke-width="1.9"/>
<ellipse cx="646.6" cy="307.7" rx="2.85" ry="2.55" fill="rgba(251,187,11,0.5)" stroke="#ffc400" stroke-width="1.9"/>
<ellipse cx="646.6" cy="325.5" rx="2.85" ry="2.55" fill="rgba(251,187,11,0.5)" stroke="#ffc400" stroke-width="1.9"/>
<ellipse cx="646.6" cy="332.4" rx="2.85" ry="2.55" fill="rgba(251,187,11,0.5)" stroke="#ffc400" stroke-width="1.9"/>
<ellipse cx="646.6" cy="339" rx="2.85" ry="2.55" fill="rgba(251,187,11,0.5)" stroke="#ffc400" stroke-width="1.9"/>
<ellipse cx="646.6" cy="346.4" rx="2.85" ry="2.55" fill="rgba(251,187,11,0.5)" stroke="#ffc400" stroke-width="1.9"/>
<ellipse cx="646.6" cy="352.3" rx="2.85" ry="2.55" fill="rgba(251,187,11,0.5)" stroke="#ffc400" stroke-width="1.9"/>
<ellipse cx="646.6" cy="359.8" rx="2.85" ry="2.55" fill="rgba(251,187,11,0.5)" stroke="#ffc400" stroke-width="1.9"/>
<ellipse cx="646.6" cy="365.7" rx="2.85" ry="2.55" fill="rgba(251,187,11,0.5)" stroke="#ffc400" stroke-width="1.9"/>
<ellipse cx="646.6" cy="371" rx="2.85" ry="2.55" fill="rgba(251,187,11,0.5)" stroke="#ffc400" stroke-width="1.9"/>
<path d="M641.5 316.3L651.7 325.7M651.7 316.3L641.5 325.7" stroke="#ffc400" stroke-width="1.7" fill="none"/>
<rect x="393.35" y="465.85" width="12.6" height="13.1" fill="rgba(65,141,209,0.5)" stroke="#238ed6" stroke-width="1.6"/>
<text x="412.8" y="478.3" font-size="14.5" textLength="31" lengthAdjust="spacingAndGlyphs" fill="#666666">S1T1</text>
<rect x="457.35" y="465.85" width="12.6" height="13.1" fill="rgba(255,21,21,0.5)" stroke="#fa0a0a" stroke-width="1.6"/>
<text x="476.7" y="478.3" font-size="14.5" textLength="31" lengthAdjust="spacingAndGlyphs" fill="#666666">S1T2</text>
<rect x="552.85" y="465.85" width="12.6" height="13.1" fill="rgba(71,115,57,0.5)" stroke="#356e2b" stroke-width="1.6"/>
<text x="572.7" y="478.3" font-size="14.5" textLength="31" lengthAdjust="spacingAndGlyphs" fill="#666666">S2T1</text>
<rect x="616.35" y="465.85" width="12.6" height="13.1" fill="rgba(251,187,11,0.5)" stroke="#ffc400" stroke-width="1.6"/>
<text x="635.6" y="478.3" font-size="14.5" textLength="31" lengthAdjust="spacingAndGlyphs" fill="#666666">S2T2</text>
<rect x="2" y="502.4" width="348.8" height="502.8" fill="#fff" stroke="#dedede" stroke-width="1.5"/>
<text x="136.4" y="534.8" font-size="21.9" textLength="49.7" lengthAdjust="spacingAndGlyphs" fill="#666666">CoPs</text>
<text x="190.9" y="534.8" font-size="21.9" textLength="25.8" lengthAdjust="spacingAndGlyphs" fill="#666666">ml</text>
<line x1="78.4" y1="934.5" x2="341" y2="934.5" stroke="#dcdcdc" stroke-width="1.2"/>
<text transform="translate(66.8,940.5) scale(0.95,1)" font-size="15" text-anchor="end" fill="#666666">0</text>
<line x1="78.4" y1="900.33" x2="341" y2="900.33" stroke="#dcdcdc" stroke-width="1.2"/>
<text transform="translate(66.8,906.33) scale(0.95,1)" font-size="15" text-anchor="end" fill="#666666">10</text>
<line x1="78.4" y1="866.15" x2="341" y2="866.15" stroke="#dcdcdc" stroke-width="1.2"/>
<text transform="translate(66.8,872.15) scale(0.95,1)" font-size="15" text-anchor="end" fill="#666666">20</text>
<line x1="78.4" y1="831.98" x2="341" y2="831.98" stroke="#dcdcdc" stroke-width="1.2"/>
<text transform="translate(66.8,837.98) scale(0.95,1)" font-size="15" text-anchor="end" fill="#666666">30</text>
<line x1="78.4" y1="797.81" x2="341" y2="797.81" stroke="#dcdcdc" stroke-width="1.2"/>
<text transform="translate(66.8,803.81) scale(0.95,1)" font-size="15" text-anchor="end" fill="#666666">40</text>
<line x1="78.4" y1="763.64" x2="341" y2="763.64" stroke="#dcdcdc" stroke-width="1.2"/>
<text transform="translate(66.8,769.64) scale(0.95,1)" font-size="15" text-anchor="end" fill="#666666">50</text>
<line x1="78.4" y1="729.46" x2="341" y2="729.46" stroke="#dcdcdc" stroke-width="1.2"/>
<text transform="translate(66.8,735.46) scale(0.95,1)" font-size="15" text-anchor="end" fill="#666666">60</text>
<line x1="78.4" y1="695.29" x2="341" y2="695.29" stroke="#dcdcdc" stroke-width="1.2"/>
<text transform="translate(66.8,701.29) scale(0.95,1)" font-size="15" text-anchor="end" fill="#666666">70</text>
<line x1="78.4" y1="661.12" x2="341" y2="661.12" stroke="#dcdcdc" stroke-width="1.2"/>
<text transform="translate(66.8,667.12) scale(0.95,1)" font-size="15" text-anchor="end" fill="#666666">80</text>
<line x1="78.4" y1="626.95" x2="341" y2="626.95" stroke="#dcdcdc" stroke-width="1.2"/>
<text transform="translate(66.8,632.95) scale(0.95,1)" font-size="15" text-anchor="end" fill="#666666">90</text>
<line x1="78.4" y1="592.77" x2="341" y2="592.77" stroke="#dcdcdc" stroke-width="1.2"/>
<text transform="translate(66.8,598.77) scale(0.95,1)" font-size="15" text-anchor="end" fill="#666666">100</text>
<line x1="78.4" y1="558.6" x2="341" y2="558.6" stroke="#dcdcdc" stroke-width="1.2"/>
<text transform="translate(66.8,564.6) scale(0.95,1)" font-size="15" text-anchor="end" fill="#666666">110</text>
<line x1="78.4" y1="558.6" x2="78.4" y2="934.5" stroke="#dcdcdc" stroke-width="1.2"/>
<text transform="translate(25.8,788.2) rotate(-90)" x="0" y="0" font-size="14.8" textLength="32.1" lengthAdjust="spacingAndGlyphs" fill="#5e5e5e">CoPs</text>
<text transform="translate(25.8,753.7) rotate(-90)" x="0" y="0" font-size="14.8" textLength="48.8" lengthAdjust="spacingAndGlyphs" fill="#5e5e5e">(mm/s)</text>
<line x1="119.6" y1="588.5" x2="119.6" y2="651" stroke="#238ed6" stroke-width="2"/>
<line x1="119.6" y1="729.2" x2="119.6" y2="786.2" stroke="#238ed6" stroke-width="2"/>
<line x1="114" y1="588.5" x2="125.2" y2="588.5" stroke="#238ed6" stroke-width="2"/>
<line x1="114" y1="786.2" x2="125.2" y2="786.2" stroke="#238ed6" stroke-width="2"/>
<rect x="99.5" y="651" width="40.2" height="78.2" fill="rgba(65,141,209,0.5)" stroke="#238ed6" stroke-width="2"/>
<line x1="99.5" y1="692.1" x2="139.7" y2="692.1" stroke="#238ed6" stroke-width="2"/>
<ellipse cx="119.6" cy="601.8" rx="2.85" ry="2.55" fill="rgba(65,141,209,0.5)" stroke="#238ed6" stroke-width="1.9"/>
<ellipse cx="119.6" cy="617.3" rx="2.85" ry="2.55" fill="rgba(65,141,209,0.5)" stroke="#238ed6" stroke-width="1.9"/>
<ellipse cx="119.6" cy="636.5" rx="2.85" ry="2.55" fill="rgba(65,141,209,0.5)" stroke="#238ed6" stroke-width="1.9"/>
<ellipse cx="119.6" cy="642.9" rx="2.85" ry="2.55" fill="rgba(65,141,209,0.5)" stroke="#238ed6" stroke-width="1.9"/>
<ellipse cx="119.6" cy="654.4" rx="2.85" ry="2.55" fill="rgba(65,141,209,0.5)" stroke="#238ed6" stroke-width="1.9"/>
<ellipse cx="119.6" cy="669.3" rx="2.85" ry="2.55" fill="rgba(65,141,209,0.5)" stroke="#238ed6" stroke-width="1.9"/>
<ellipse cx="119.6" cy="685.2" rx="2.85" ry="2.55" fill="rgba(65,141,209,0.5)" stroke="#238ed6" stroke-width="1.9"/>
<ellipse cx="119.6" cy="692.1" rx="2.85" ry="2.55" fill="rgba(65,141,209,0.5)" stroke="#238ed6" stroke-width="1.9"/>
<ellipse cx="119.6" cy="700.6" rx="2.85" ry="2.55" fill="rgba(65,141,209,0.5)" stroke="#238ed6" stroke-width="1.9"/>
<ellipse cx="119.6" cy="711" rx="2.85" ry="2.55" fill="rgba(65,141,209,0.5)" stroke="#238ed6" stroke-width="1.9"/>
<ellipse cx="119.6" cy="716.5" rx="2.85" ry="2.55" fill="rgba(65,141,209,0.5)" stroke="#238ed6" stroke-width="1.9"/>
<ellipse cx="119.6" cy="721.9" rx="2.85" ry="2.55" fill="rgba(65,141,209,0.5)" stroke="#238ed6" stroke-width="1.9"/>
<ellipse cx="119.6" cy="728.8" rx="2.85" ry="2.55" fill="rgba(65,141,209,0.5)" stroke="#238ed6" stroke-width="1.9"/>
<ellipse cx="119.6" cy="736.7" rx="2.85" ry="2.55" fill="rgba(65,141,209,0.5)" stroke="#238ed6" stroke-width="1.9"/>
<ellipse cx="119.6" cy="743.7" rx="2.85" ry="2.55" fill="rgba(65,141,209,0.5)" stroke="#238ed6" stroke-width="1.9"/>
<ellipse cx="119.6" cy="755.6" rx="2.85" ry="2.55" fill="rgba(65,141,209,0.5)" stroke="#238ed6" stroke-width="1.9"/>
<ellipse cx="119.6" cy="764.1" rx="2.85" ry="2.55" fill="rgba(65,141,209,0.5)" stroke="#238ed6" stroke-width="1.9"/>
<path d="M114.5 682.4L124.7 691.8M124.7 682.4L114.5 691.8" stroke="#238ed6" stroke-width="1.7" fill="none"/>
<line x1="163.7" y1="644.5" x2="163.7" y2="700" stroke="#fa0a0a" stroke-width="2"/>
<line x1="163.7" y1="759.1" x2="163.7" y2="798.9" stroke="#fa0a0a" stroke-width="2"/>
<line x1="158.1" y1="644.5" x2="169.3" y2="644.5" stroke="#fa0a0a" stroke-width="2"/>
<line x1="158.1" y1="798.9" x2="169.3" y2="798.9" stroke="#fa0a0a" stroke-width="2"/>
<rect x="143.6" y="700" width="40.2" height="59.1" fill="rgba(255,21,21,0.5)" stroke="#fa0a0a" stroke-width="2"/>
<line x1="143.6" y1="730.8" x2="183.8" y2="730.8" stroke="#fa0a0a" stroke-width="2"/>
<ellipse cx="163.7" cy="659.4" rx="2.85" ry="2.55" fill="rgba(255,21,21,0.5)" stroke="#fa0a0a" stroke-width="1.9"/>
<ellipse cx="163.7" cy="665.7" rx="2.85" ry="2.55" fill="rgba(255,21,21,0.5)" stroke="#fa0a0a" stroke-width="1.9"/>
<ellipse cx="163.7" cy="674.8" rx="2.85" ry="2.55" fill="rgba(255,21,21,0.5)" stroke="#fa0a0a" stroke-width="1.9"/>
<ellipse cx="163.7" cy="682.8" rx="2.85" ry="2.55" fill="rgba(255,21,21,0.5)" stroke="#fa0a0a" stroke-width="1.9"/>
<ellipse cx="163.7" cy="704" rx="2.85" ry="2.55" fill="rgba(255,21,21,0.5)" stroke="#fa0a0a" stroke-width="1.9"/>
<ellipse cx="163.7" cy="721.3" rx="2.85" ry="2.55" fill="rgba(255,21,21,0.5)" stroke="#fa0a0a" stroke-width="1.9"/>
<ellipse cx="163.7" cy="736.3" rx="2.85" ry="2.55" fill="rgba(255,21,21,0.5)" stroke="#fa0a0a" stroke-width="1.9"/>
<ellipse cx="163.7" cy="742.7" rx="2.85" ry="2.55" fill="rgba(255,21,21,0.5)" stroke="#fa0a0a" stroke-width="1.9"/>
<ellipse cx="163.7" cy="751" rx="2.85" ry="2.55" fill="rgba(255,21,21,0.5)" stroke="#fa0a0a" stroke-width="1.9"/>
<ellipse cx="163.7" cy="761" rx="2.85" ry="2.55" fill="rgba(255,21,21,0.5)" stroke="#fa0a0a" stroke-width="1.9"/>
<ellipse cx="163.7" cy="766.5" rx="2.85" ry="2.55" fill="rgba(255,21,21,0.5)" stroke="#fa0a0a" stroke-width="1.9"/>
<ellipse cx="163.7" cy="779.1" rx="2.85" ry="2.55" fill="rgba(255,21,21,0.5)" stroke="#fa0a0a" stroke-width="1.9"/>
<ellipse cx="163.7" cy="786.2" rx="2.85" ry="2.55" fill="rgba(255,21,21,0.5)" stroke="#fa0a0a" stroke-width="1.9"/>
<ellipse cx="163.7" cy="794.6" rx="2.85" ry="2.55" fill="rgba(255,21,21,0.5)" stroke="#fa0a0a" stroke-width="1.9"/>
<path d="M158.6 721.1L168.8 730.5M168.8 721.1L158.6 730.5" stroke="#fa0a0a" stroke-width="1.7" fill="none"/>
<line x1="252.4" y1="649" x2="252.4" y2="704" stroke="#356e2b" stroke-width="2"/>
<line x1="252.4" y1="746.1" x2="252.4" y2="799.6" stroke="#356e2b" stroke-width="2"/>
<line x1="246.8" y1="649" x2="258" y2="649" stroke="#356e2b" stroke-width="2"/>
<line x1="246.8" y1="799.6" x2="258" y2="799.6" stroke="#356e2b" stroke-width="2"/>
<rect x="232.2" y="704" width="40.4" height="42.1" fill="rgba(71,115,57,0.5)" stroke="#356e2b" stroke-width="2"/>
<line x1="232.2" y1="731.9" x2="272.6" y2="731.9" stroke="#356e2b" stroke-width="2"/>
<ellipse cx="252.4" cy="674.5" rx="2.85" ry="2.55" fill="rgba(71,115,57,0.5)" stroke="#356e2b" stroke-width="1.9"/>
<ellipse cx="252.4" cy="685.6" rx="2.85" ry="2.55" fill="rgba(71,115,57,0.5)" stroke="#356e2b" stroke-width="1.9"/>
<ellipse cx="252.4" cy="695.9" rx="2.85" ry="2.55" fill="rgba(71,115,57,0.5)" stroke="#356e2b" stroke-width="1.9"/>
<ellipse cx="252.4" cy="702.4" rx="2.85" ry="2.55" fill="rgba(71,115,57,0.5)" stroke="#356e2b" stroke-width="1.9"/>
<ellipse cx="252.4" cy="709" rx="2.85" ry="2.55" fill="rgba(71,115,57,0.5)" stroke="#356e2b" stroke-width="1.9"/>
<ellipse cx="252.4" cy="715.5" rx="2.85" ry="2.55" fill="rgba(71,115,57,0.5)" stroke="#356e2b" stroke-width="1.9"/>
<ellipse cx="252.4" cy="727.6" rx="2.85" ry="2.55" fill="rgba(71,115,57,0.5)" stroke="#356e2b" stroke-width="1.9"/>
<ellipse cx="252.4" cy="733" rx="2.85" ry="2.55" fill="rgba(71,115,57,0.5)" stroke="#356e2b" stroke-width="1.9"/>
<ellipse cx="252.4" cy="738.5" rx="2.85" ry="2.55" fill="rgba(71,115,57,0.5)" stroke="#356e2b" stroke-width="1.9"/>
<ellipse cx="252.4" cy="745" rx="2.85" ry="2.55" fill="rgba(71,115,57,0.5)" stroke="#356e2b" stroke-width="1.9"/>
<ellipse cx="252.4" cy="750.5" rx="2.85" ry="2.55" fill="rgba(71,115,57,0.5)" stroke="#356e2b" stroke-width="1.9"/>
<ellipse cx="252.4" cy="758.6" rx="2.85" ry="2.55" fill="rgba(71,115,57,0.5)" stroke="#356e2b" stroke-width="1.9"/>
<ellipse cx="252.4" cy="766.4" rx="2.85" ry="2.55" fill="rgba(71,115,57,0.5)" stroke="#356e2b" stroke-width="1.9"/>
<ellipse cx="252.4" cy="776.7" rx="2.85" ry="2.55" fill="rgba(71,115,57,0.5)" stroke="#356e2b" stroke-width="1.9"/>
<ellipse cx="252.4" cy="791.3" rx="2.85" ry="2.55" fill="rgba(71,115,57,0.5)" stroke="#356e2b" stroke-width="1.9"/>
<ellipse cx="252.4" cy="605.5" rx="2.85" ry="2.55" fill="rgba(71,115,57,0.5)" stroke="#356e2b" stroke-width="1.9"/>
<path d="M247.3 721.8L257.5 731.2M257.5 721.8L247.3 731.2" stroke="#356e2b" stroke-width="1.7" fill="none"/>
<line x1="296.4" y1="654.8" x2="296.4" y2="721.4" stroke="#ffc400" stroke-width="2"/>
<line x1="296.4" y1="776.2" x2="296.4" y2="816" stroke="#ffc400" stroke-width="2"/>
<line x1="290.8" y1="654.8" x2="302" y2="654.8" stroke="#ffc400" stroke-width="2"/>
<line x1="290.8" y1="816" x2="302" y2="816" stroke="#ffc400" stroke-width="2"/>
<rect x="276.2" y="721.4" width="40.4" height="54.8" fill="rgba(251,187,11,0.5)" stroke="#ffc400" stroke-width="2"/>
<line x1="276.2" y1="747.6" x2="316.6" y2="747.6" stroke="#ffc400" stroke-width="2"/>
<ellipse cx="296.4" cy="680.2" rx="2.85" ry="2.55" fill="rgba(251,187,11,0.5)" stroke="#ffc400" stroke-width="1.9"/>
<ellipse cx="296.4" cy="701.4" rx="2.85" ry="2.55" fill="rgba(251,187,11,0.5)" stroke="#ffc400" stroke-width="1.9"/>
<ellipse cx="296.4" cy="716.2" rx="2.85" ry="2.55" fill="rgba(251,187,11,0.5)" stroke="#ffc400" stroke-width="1.9"/>
<ellipse cx="296.4" cy="723.6" rx="2.85" ry="2.55" fill="rgba(251,187,11,0.5)" stroke="#ffc400" stroke-width="1.9"/>
<ellipse cx="296.4" cy="733.7" rx="2.85" ry="2.55" fill="rgba(251,187,11,0.5)" stroke="#ffc400" stroke-width="1.9"/>
<ellipse cx="296.4" cy="739.6" rx="2.85" ry="2.55" fill="rgba(251,187,11,0.5)" stroke="#ffc400" stroke-width="1.9"/>
<ellipse cx="296.4" cy="758.1" rx="2.85" ry="2.55" fill="rgba(251,187,11,0.5)" stroke="#ffc400" stroke-width="1.9"/>
<ellipse cx="296.4" cy="764.7" rx="2.85" ry="2.55" fill="rgba(251,187,11,0.5)" stroke="#ffc400" stroke-width="1.9"/>
<ellipse cx="296.4" cy="770.8" rx="2.85" ry="2.55" fill="rgba(251,187,11,0.5)" stroke="#ffc400" stroke-width="1.9"/>
<ellipse cx="296.4" cy="776.7" rx="2.85" ry="2.55" fill="rgba(251,187,11,0.5)" stroke="#ffc400" stroke-width="1.9"/>
<ellipse cx="296.4" cy="788.8" rx="2.85" ry="2.55" fill="rgba(251,187,11,0.5)" stroke="#ffc400" stroke-width="1.9"/>
<ellipse cx="296.4" cy="796.4" rx="2.85" ry="2.55" fill="rgba(251,187,11,0.5)" stroke="#ffc400" stroke-width="1.9"/>
<ellipse cx="296.4" cy="803.7" rx="2.85" ry="2.55" fill="rgba(251,187,11,0.5)" stroke="#ffc400" stroke-width="1.9"/>
<path d="M291.3 743.6L301.5 753M301.5 743.6L291.3 753" stroke="#ffc400" stroke-width="1.7" fill="none"/>
<rect x="43.35" y="966.85" width="12.6" height="13.1" fill="rgba(65,141,209,0.5)" stroke="#238ed6" stroke-width="1.6"/>
<text x="62.8" y="979.3" font-size="14.5" textLength="31" lengthAdjust="spacingAndGlyphs" fill="#666666">S1T1</text>
<rect x="107.35" y="966.85" width="12.6" height="13.1" fill="rgba(255,21,21,0.5)" stroke="#fa0a0a" stroke-width="1.6"/>
<text x="126.7" y="979.3" font-size="14.5" textLength="31" lengthAdjust="spacingAndGlyphs" fill="#666666">S1T2</text>
<rect x="202.85" y="966.85" width="12.6" height="13.1" fill="rgba(71,115,57,0.5)" stroke="#356e2b" stroke-width="1.6"/>
<text x="222.7" y="979.3" font-size="14.5" textLength="31" lengthAdjust="spacingAndGlyphs" fill="#666666">S2T1</text>
<rect x="266.35" y="966.85" width="12.6" height="13.1" fill="rgba(251,187,11,0.5)" stroke="#ffc400" stroke-width="1.6"/>
<text x="285.6" y="979.3" font-size="14.5" textLength="31" lengthAdjust="spacingAndGlyphs" fill="#666666">S2T2</text>
<rect x="350.8" y="501.8" width="351.5" height="502.4" fill="#fff" stroke="#dedede" stroke-width="1.5"/>
<text x="508.1" y="534.3" font-size="21.9" textLength="35.6" lengthAdjust="spacingAndGlyphs" fill="#666666">TTS</text>
<line x1="423.2" y1="933.4" x2="690" y2="933.4" stroke="#dcdcdc" stroke-width="1.2"/>
<text transform="translate(411.2,939.4) scale(0.95,1)" font-size="15" text-anchor="end" fill="#666666">0</text>
<line x1="423.2" y1="870.82" x2="690" y2="870.82" stroke="#dcdcdc" stroke-width="1.2"/>
<text transform="translate(411.2,876.82) scale(0.95,1)" font-size="15" text-anchor="end" fill="#666666">0,5</text>
<line x1="423.2" y1="808.23" x2="690" y2="808.23" stroke="#dcdcdc" stroke-width="1.2"/>
<text transform="translate(411.2,814.23) scale(0.95,1)" font-size="15" text-anchor="end" fill="#666666">1</text>
<line x1="423.2" y1="745.65" x2="690" y2="745.65" stroke="#dcdcdc" stroke-width="1.2"/>
<text transform="translate(411.2,751.65) scale(0.95,1)" font-size="15" text-anchor="end" fill="#666666">1,5</text>
<line x1="423.2" y1="683.07" x2="690" y2="683.07" stroke="#dcdcdc" stroke-width="1.2"/>
<text transform="translate(411.2,689.07) scale(0.95,1)" font-size="15" text-anchor="end" fill="#666666">2</text>
<line x1="423.2" y1="620.48" x2="690" y2="620.48" stroke="#dcdcdc" stroke-width="1.2"/>
<text transform="translate(411.2,626.48) scale(0.95,1)" font-size="15" text-anchor="end" fill="#666666">2,5</text>
<line x1="423.2" y1="557.9" x2="690" y2="557.9" stroke="#dcdcdc" stroke-width="1.2"/>
<text transform="translate(411.2,563.9) scale(0.95,1)" font-size="15" text-anchor="end" fill="#666666">3</text>
<line x1="423.2" y1="557.9" x2="423.2" y2="933.4" stroke="#dcdcdc" stroke-width="1.2"/>
<text transform="translate(375,767.6) rotate(-90)" x="0" y="0" font-size="14.8" textLength="22.8" lengthAdjust="spacingAndGlyphs" fill="#5e5e5e">TTS</text>
<text transform="translate(375,739.8) rotate(-90)" x="0" y="0" font-size="14.8" textLength="16.5" lengthAdjust="spacingAndGlyphs" fill="#5e5e5e">(s)</text>
<line x1="465" y1="593.6" x2="465" y2="706" stroke="#238ed6" stroke-width="2"/>
<line x1="465" y1="808.4" x2="465" y2="892.5" stroke="#238ed6" stroke-width="2"/>
<line x1="459.4" y1="593.6" x2="470.6" y2="593.6" stroke="#238ed6" stroke-width="2"/>
<line x1="459.4" y1="892.5" x2="470.6" y2="892.5" stroke="#238ed6" stroke-width="2"/>
<rect x="444.4" y="706" width="41.2" height="102.4" fill="rgba(65,141,209,0.5)" stroke="#238ed6" stroke-width="2"/>
<line x1="444.4" y1="768.4" x2="485.6" y2="768.4" stroke="#238ed6" stroke-width="2"/>
<ellipse cx="465" cy="609.8" rx="2.85" ry="2.55" fill="rgba(65,141,209,0.5)" stroke="#238ed6" stroke-width="1.9"/>
<ellipse cx="465" cy="618.8" rx="2.85" ry="2.55" fill="rgba(65,141,209,0.5)" stroke="#238ed6" stroke-width="1.9"/>
<ellipse cx="465" cy="626" rx="2.85" ry="2.55" fill="rgba(65,141,209,0.5)" stroke="#238ed6" stroke-width="1.9"/>
<ellipse cx="465" cy="665" rx="2.85" ry="2.55" fill="rgba(65,141,209,0.5)" stroke="#238ed6" stroke-width="1.9"/>
<ellipse cx="465" cy="687.1" rx="2.85" ry="2.55" fill="rgba(65,141,209,0.5)" stroke="#238ed6" stroke-width="1.9"/>
<ellipse cx="465" cy="697.4" rx="2.85" ry="2.55" fill="rgba(65,141,209,0.5)" stroke="#238ed6" stroke-width="1.9"/>
<ellipse cx="465" cy="706" rx="2.85" ry="2.55" fill="rgba(65,141,209,0.5)" stroke="#238ed6" stroke-width="1.9"/>
<ellipse cx="465" cy="717.3" rx="2.85" ry="2.55" fill="rgba(65,141,209,0.5)" stroke="#238ed6" stroke-width="1.9"/>
<ellipse cx="465" cy="741.8" rx="2.85" ry="2.55" fill="rgba(65,141,209,0.5)" stroke="#238ed6" stroke-width="1.9"/>
<ellipse cx="465" cy="767.6" rx="2.85" ry="2.55" fill="rgba(65,141,209,0.5)" stroke="#238ed6" stroke-width="1.9"/>
<ellipse cx="465" cy="773.5" rx="2.85" ry="2.55" fill="rgba(65,141,209,0.5)" stroke="#238ed6" stroke-width="1.9"/>
<ellipse cx="465" cy="780.8" rx="2.85" ry="2.55" fill="rgba(65,141,209,0.5)" stroke="#238ed6" stroke-width="1.9"/>
<ellipse cx="465" cy="800.1" rx="2.85" ry="2.55" fill="rgba(65,141,209,0.5)" stroke="#238ed6" stroke-width="1.9"/>
<ellipse cx="465" cy="808.4" rx="2.85" ry="2.55" fill="rgba(65,141,209,0.5)" stroke="#238ed6" stroke-width="1.9"/>
<ellipse cx="465" cy="819.2" rx="2.85" ry="2.55" fill="rgba(65,141,209,0.5)" stroke="#238ed6" stroke-width="1.9"/>
<ellipse cx="465" cy="826.5" rx="2.85" ry="2.55" fill="rgba(65,141,209,0.5)" stroke="#238ed6" stroke-width="1.9"/>
<ellipse cx="465" cy="833.7" rx="2.85" ry="2.55" fill="rgba(65,141,209,0.5)" stroke="#238ed6" stroke-width="1.9"/>
<ellipse cx="465" cy="839.9" rx="2.85" ry="2.55" fill="rgba(65,141,209,0.5)" stroke="#238ed6" stroke-width="1.9"/>
<ellipse cx="465" cy="853.5" rx="2.85" ry="2.55" fill="rgba(65,141,209,0.5)" stroke="#238ed6" stroke-width="1.9"/>
<ellipse cx="465" cy="869" rx="2.85" ry="2.55" fill="rgba(65,141,209,0.5)" stroke="#238ed6" stroke-width="1.9"/>
<path d="M459.9 752.1L470.1 761.5M470.1 752.1L459.9 761.5" stroke="#238ed6" stroke-width="1.7" fill="none"/>
<line x1="509.7" y1="695.1" x2="509.7" y2="774.8" stroke="#fa0a0a" stroke-width="2"/>
<line x1="509.7" y1="858.8" x2="509.7" y2="926.8" stroke="#fa0a0a" stroke-width="2"/>
<line x1="504.1" y1="695.1" x2="515.3" y2="695.1" stroke="#fa0a0a" stroke-width="2"/>
<line x1="504.1" y1="926.8" x2="515.3" y2="926.8" stroke="#fa0a0a" stroke-width="2"/>
<rect x="489.6" y="774.8" width="40.2" height="84" fill="rgba(255,21,21,0.5)" stroke="#fa0a0a" stroke-width="2"/>
<line x1="489.6" y1="813.5" x2="529.8" y2="813.5" stroke="#fa0a0a" stroke-width="2"/>
<ellipse cx="509.7" cy="712.5" rx="2.85" ry="2.55" fill="rgba(255,21,21,0.5)" stroke="#fa0a0a" stroke-width="1.9"/>
<ellipse cx="509.7" cy="733.2" rx="2.85" ry="2.55" fill="rgba(255,21,21,0.5)" stroke="#fa0a0a" stroke-width="1.9"/>
<ellipse cx="509.7" cy="747.9" rx="2.85" ry="2.55" fill="rgba(255,21,21,0.5)" stroke="#fa0a0a" stroke-width="1.9"/>
<ellipse cx="509.7" cy="755.3" rx="2.85" ry="2.55" fill="rgba(255,21,21,0.5)" stroke="#fa0a0a" stroke-width="1.9"/>
<ellipse cx="509.7" cy="774.2" rx="2.85" ry="2.55" fill="rgba(255,21,21,0.5)" stroke="#fa0a0a" stroke-width="1.9"/>
<ellipse cx="509.7" cy="780.3" rx="2.85" ry="2.55" fill="rgba(255,21,21,0.5)" stroke="#fa0a0a" stroke-width="1.9"/>
<ellipse cx="509.7" cy="789.7" rx="2.85" ry="2.55" fill="rgba(255,21,21,0.5)" stroke="#fa0a0a" stroke-width="1.9"/>
<ellipse cx="509.7" cy="803.6" rx="2.85" ry="2.55" fill="rgba(255,21,21,0.5)" stroke="#fa0a0a" stroke-width="1.9"/>
<ellipse cx="509.7" cy="809.1" rx="2.85" ry="2.55" fill="rgba(255,21,21,0.5)" stroke="#fa0a0a" stroke-width="1.9"/>
<ellipse cx="509.7" cy="817.5" rx="2.85" ry="2.55" fill="rgba(255,21,21,0.5)" stroke="#fa0a0a" stroke-width="1.9"/>
<ellipse cx="509.7" cy="825" rx="2.85" ry="2.55" fill="rgba(255,21,21,0.5)" stroke="#fa0a0a" stroke-width="1.9"/>
<ellipse cx="509.7" cy="831" rx="2.85" ry="2.55" fill="rgba(255,21,21,0.5)" stroke="#fa0a0a" stroke-width="1.9"/>
<ellipse cx="509.7" cy="836.8" rx="2.85" ry="2.55" fill="rgba(255,21,21,0.5)" stroke="#fa0a0a" stroke-width="1.9"/>
<ellipse cx="509.7" cy="852.3" rx="2.85" ry="2.55" fill="rgba(255,21,21,0.5)" stroke="#fa0a0a" stroke-width="1.9"/>
<ellipse cx="509.7" cy="859.8" rx="2.85" ry="2.55" fill="rgba(255,21,21,0.5)" stroke="#fa0a0a" stroke-width="1.9"/>
<ellipse cx="509.7" cy="868.2" rx="2.85" ry="2.55" fill="rgba(255,21,21,0.5)" stroke="#fa0a0a" stroke-width="1.9"/>
<ellipse cx="509.7" cy="876.7" rx="2.85" ry="2.55" fill="rgba(255,21,21,0.5)" stroke="#fa0a0a" stroke-width="1.9"/>
<ellipse cx="509.7" cy="904.9" rx="2.85" ry="2.55" fill="rgba(255,21,21,0.5)" stroke="#fa0a0a" stroke-width="1.9"/>
<ellipse cx="509.7" cy="576" rx="2.85" ry="2.55" fill="rgba(255,21,21,0.5)" stroke="#fa0a0a" stroke-width="1.9"/>
<ellipse cx="509.7" cy="612.5" rx="2.85" ry="2.55" fill="rgba(255,21,21,0.5)" stroke="#fa0a0a" stroke-width="1.9"/>
<ellipse cx="509.7" cy="627.4" rx="2.85" ry="2.55" fill="rgba(255,21,21,0.5)" stroke="#fa0a0a" stroke-width="1.9"/>
<path d="M504.6 796.9L514.8 806.3M514.8 796.9L504.6 806.3" stroke="#fa0a0a" stroke-width="1.7" fill="none"/>
<line x1="599.5" y1="652.3" x2="599.5" y2="770.8" stroke="#356e2b" stroke-width="2"/>
<line x1="599.5" y1="861" x2="599.5" y2="920" stroke="#356e2b" stroke-width="2"/>
<line x1="593.9" y1="652.3" x2="605.1" y2="652.3" stroke="#356e2b" stroke-width="2"/>
<line x1="593.9" y1="920" x2="605.1" y2="920" stroke="#356e2b" stroke-width="2"/>
<rect x="578.6" y="770.8" width="41.8" height="90.2" fill="rgba(71,115,57,0.5)" stroke="#356e2b" stroke-width="2"/>
<line x1="578.6" y1="824.7" x2="620.4" y2="824.7" stroke="#356e2b" stroke-width="2"/>
<ellipse cx="599.5" cy="692.5" rx="2.85" ry="2.55" fill="rgba(71,115,57,0.5)" stroke="#356e2b" stroke-width="1.9"/>
<ellipse cx="599.5" cy="703.5" rx="2.85" ry="2.55" fill="rgba(71,115,57,0.5)" stroke="#356e2b" stroke-width="1.9"/>
<ellipse cx="599.5" cy="718.7" rx="2.85" ry="2.55" fill="rgba(71,115,57,0.5)" stroke="#356e2b" stroke-width="1.9"/>
<ellipse cx="599.5" cy="744.1" rx="2.85" ry="2.55" fill="rgba(71,115,57,0.5)" stroke="#356e2b" stroke-width="1.9"/>
<ellipse cx="599.5" cy="754.8" rx="2.85" ry="2.55" fill="rgba(71,115,57,0.5)" stroke="#356e2b" stroke-width="1.9"/>
<ellipse cx="599.5" cy="770.8" rx="2.85" ry="2.55" fill="rgba(71,115,57,0.5)" stroke="#356e2b" stroke-width="1.9"/>
<ellipse cx="599.5" cy="779.3" rx="2.85" ry="2.55" fill="rgba(71,115,57,0.5)" stroke="#356e2b" stroke-width="1.9"/>
<ellipse cx="599.5" cy="805.5" rx="2.85" ry="2.55" fill="rgba(71,115,57,0.5)" stroke="#356e2b" stroke-width="1.9"/>
<ellipse cx="599.5" cy="818.4" rx="2.85" ry="2.55" fill="rgba(71,115,57,0.5)" stroke="#356e2b" stroke-width="1.9"/>
<ellipse cx="599.5" cy="827.3" rx="2.85" ry="2.55" fill="rgba(71,115,57,0.5)" stroke="#356e2b" stroke-width="1.9"/>
<ellipse cx="599.5" cy="832.9" rx="2.85" ry="2.55" fill="rgba(71,115,57,0.5)" stroke="#356e2b" stroke-width="1.9"/>
<ellipse cx="599.5" cy="838.6" rx="2.85" ry="2.55" fill="rgba(71,115,57,0.5)" stroke="#356e2b" stroke-width="1.9"/>
<ellipse cx="599.5" cy="845.2" rx="2.85" ry="2.55" fill="rgba(71,115,57,0.5)" stroke="#356e2b" stroke-width="1.9"/>
<ellipse cx="599.5" cy="851.1" rx="2.85" ry="2.55" fill="rgba(71,115,57,0.5)" stroke="#356e2b" stroke-width="1.9"/>
<ellipse cx="599.5" cy="857.1" rx="2.85" ry="2.55" fill="rgba(71,115,57,0.5)" stroke="#356e2b" stroke-width="1.9"/>
<ellipse cx="599.5" cy="865.4" rx="2.85" ry="2.55" fill="rgba(71,115,57,0.5)" stroke="#356e2b" stroke-width="1.9"/>
<ellipse cx="599.5" cy="872.9" rx="2.85" ry="2.55" fill="rgba(71,115,57,0.5)" stroke="#356e2b" stroke-width="1.9"/>
<ellipse cx="599.5" cy="879.5" rx="2.85" ry="2.55" fill="rgba(71,115,57,0.5)" stroke="#356e2b" stroke-width="1.9"/>
<ellipse cx="599.5" cy="884.8" rx="2.85" ry="2.55" fill="rgba(71,115,57,0.5)" stroke="#356e2b" stroke-width="1.9"/>
<ellipse cx="599.5" cy="603.7" rx="2.85" ry="2.55" fill="rgba(71,115,57,0.5)" stroke="#356e2b" stroke-width="1.9"/>
<path d="M594.4 805.7L604.6 815.1M604.6 805.7L594.4 815.1" stroke="#356e2b" stroke-width="1.7" fill="none"/>
<line x1="644.8" y1="700.9" x2="644.8" y2="793" stroke="#ffc400" stroke-width="2"/>
<line x1="644.8" y1="877.3" x2="644.8" y2="904.7" stroke="#ffc400" stroke-width="2"/>
<line x1="639.2" y1="700.9" x2="650.4" y2="700.9" stroke="#ffc400" stroke-width="2"/>
<line x1="639.2" y1="904.7" x2="650.4" y2="904.7" stroke="#ffc400" stroke-width="2"/>
<rect x="623.9" y="793" width="41.8" height="84.3" fill="rgba(251,187,11,0.5)" stroke="#ffc400" stroke-width="2"/>
<line x1="623.9" y1="850.5" x2="665.7" y2="850.5" stroke="#ffc400" stroke-width="2"/>
<ellipse cx="644.8" cy="712.4" rx="2.85" ry="2.55" fill="rgba(251,187,11,0.5)" stroke="#ffc400" stroke-width="1.9"/>
<ellipse cx="644.8" cy="719.7" rx="2.85" ry="2.55" fill="rgba(251,187,11,0.5)" stroke="#ffc400" stroke-width="1.9"/>
<ellipse cx="644.8" cy="728.7" rx="2.85" ry="2.55" fill="rgba(251,187,11,0.5)" stroke="#ffc400" stroke-width="1.9"/>
<ellipse cx="644.8" cy="739.6" rx="2.85" ry="2.55" fill="rgba(251,187,11,0.5)" stroke="#ffc400" stroke-width="1.9"/>
<ellipse cx="644.8" cy="756.3" rx="2.85" ry="2.55" fill="rgba(251,187,11,0.5)" stroke="#ffc400" stroke-width="1.9"/>
<ellipse cx="644.8" cy="773.7" rx="2.85" ry="2.55" fill="rgba(251,187,11,0.5)" stroke="#ffc400" stroke-width="1.9"/>
<ellipse cx="644.8" cy="779.7" rx="2.85" ry="2.55" fill="rgba(251,187,11,0.5)" stroke="#ffc400" stroke-width="1.9"/>
<ellipse cx="644.8" cy="797.9" rx="2.85" ry="2.55" fill="rgba(251,187,11,0.5)" stroke="#ffc400" stroke-width="1.9"/>
<ellipse cx="644.8" cy="806.5" rx="2.85" ry="2.55" fill="rgba(251,187,11,0.5)" stroke="#ffc400" stroke-width="1.9"/>
<ellipse cx="644.8" cy="827.3" rx="2.85" ry="2.55" fill="rgba(251,187,11,0.5)" stroke="#ffc400" stroke-width="1.9"/>
<ellipse cx="644.8" cy="835.2" rx="2.85" ry="2.55" fill="rgba(251,187,11,0.5)" stroke="#ffc400" stroke-width="1.9"/>
<ellipse cx="644.8" cy="846.7" rx="2.85" ry="2.55" fill="rgba(251,187,11,0.5)" stroke="#ffc400" stroke-width="1.9"/>
<ellipse cx="644.8" cy="852.1" rx="2.85" ry="2.55" fill="rgba(251,187,11,0.5)" stroke="#ffc400" stroke-width="1.9"/>
<ellipse cx="644.8" cy="859" rx="2.85" ry="2.55" fill="rgba(251,187,11,0.5)" stroke="#ffc400" stroke-width="1.9"/>
<ellipse cx="644.8" cy="866" rx="2.85" ry="2.55" fill="rgba(251,187,11,0.5)" stroke="#ffc400" stroke-width="1.9"/>
<ellipse cx="644.8" cy="874.9" rx="2.85" ry="2.55" fill="rgba(251,187,11,0.5)" stroke="#ffc400" stroke-width="1.9"/>
<ellipse cx="644.8" cy="880.9" rx="2.85" ry="2.55" fill="rgba(251,187,11,0.5)" stroke="#ffc400" stroke-width="1.9"/>
<ellipse cx="644.8" cy="885.8" rx="2.85" ry="2.55" fill="rgba(251,187,11,0.5)" stroke="#ffc400" stroke-width="1.9"/>
<ellipse cx="644.8" cy="900.3" rx="2.85" ry="2.55" fill="rgba(251,187,11,0.5)" stroke="#ffc400" stroke-width="1.9"/>
<path d="M639.7 825.6L649.9 835M649.9 825.6L639.7 835" stroke="#ffc400" stroke-width="1.7" fill="none"/>
<rect x="392.35" y="965.85" width="12.6" height="13.1" fill="rgba(65,141,209,0.5)" stroke="#238ed6" stroke-width="1.6"/>
<text x="411.8" y="978.3" font-size="14.5" textLength="31" lengthAdjust="spacingAndGlyphs" fill="#666666">S1T1</text>
<rect x="456.35" y="965.85" width="12.6" height="13.1" fill="rgba(255,21,21,0.5)" stroke="#fa0a0a" stroke-width="1.6"/>
<text x="475.7" y="978.3" font-size="14.5" textLength="31" lengthAdjust="spacingAndGlyphs" fill="#666666">S1T2</text>
<rect x="551.85" y="965.85" width="12.6" height="13.1" fill="rgba(71,115,57,0.5)" stroke="#356e2b" stroke-width="1.6"/>
<text x="571.7" y="978.3" font-size="14.5" textLength="31" lengthAdjust="spacingAndGlyphs" fill="#666666">S2T1</text>
<rect x="615.35" y="965.85" width="12.6" height="13.1" fill="rgba(251,187,11,0.5)" stroke="#ffc400" stroke-width="1.6"/>
<text x="634.6" y="978.3" font-size="14.5" textLength="31" lengthAdjust="spacingAndGlyphs" fill="#666666">S2T2</text>
</g>
</svg></div>
</body></html>
